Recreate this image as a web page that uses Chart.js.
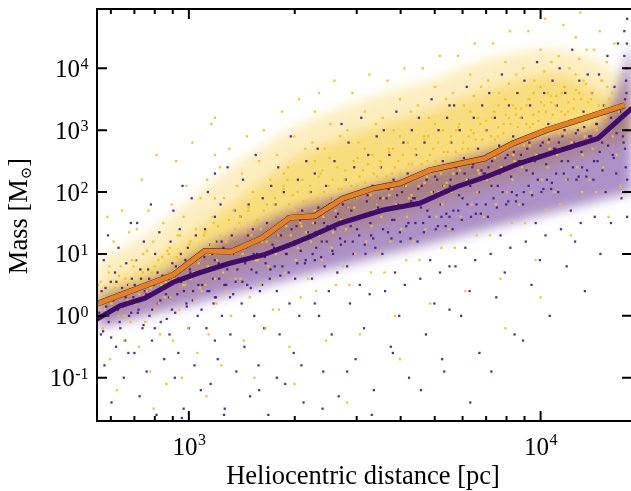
<!DOCTYPE html>
<html>
<head>
<meta charset="utf-8">
<title>Mass vs heliocentric distance</title>
<script src="https://cdn.jsdelivr.net/npm/chart.js@4.4.1/dist/chart.umd.min.js"></script>
<style>
  html, body { margin: 0; padding: 0; background: #fff; overflow: hidden; }
  #wrap { width: 631px; height: 491px; overflow: hidden; }
</style>
</head>
<body>
<div id="wrap"><canvas id="chart" width="636" height="491"></canvas></div>
<script>
/* Mass vs heliocentric distance — log-log scatter with two median lines.
 * Scatter points and density bands are kept in log10 units (pc, Msun). */

// ── Axis ranges & ticks ───────────────────────────────────────────────────────

const X_MIN = 548, X_MAX = 18190;
const Y_MIN = 0.02, Y_MAX = 90800;
const xMajorTicks = [1000, 10000];
const xMajorExp   = ["3", "4"];
const xMinorTicks = [600, 700, 800, 900, 2000, 3000, 4000, 5000, 6000, 7000, 8000, 9000];
const yMajorTicks = [0.1, 1, 10, 100, 1000, 10000];
const yMajorExp   = ["-1", "0", "1", "2", "3", "4"];

// ── Median lines ──────────────────────────────────────────────────────────────

const orangeDist = [548, 902, 1109, 1321, 1611, 1936, 2280, 2742, 3342, 3972, 4842, 5636, 6934, 8337, 10375, 12330, 17340];
const orangeMass = [1.56, 4.58, 11.2, 10.9, 17.9, 38.5, 41, 79, 115, 138, 226, 272, 350, 610, 1000, 1360, 2530];

const purpleDist = [548, 637, 750, 912, 1075, 1307, 1625, 1936, 2208, 2685, 3565, 4530, 5768, 7015, 8710, 11830, 14560, 18190];
const purpleMass = [0.885, 1.45, 1.93, 3.57, 4.99, 7.08, 9.63, 14.0, 19.0, 31.3, 51.3, 65.8, 122, 177, 290, 507, 735, 2280];

// ── Dense-core envelopes (log10) ──────────────────────────────────────────────

const bandLogDist   = [2.74, 2.90, 3.05, 3.17, 3.32, 3.50, 3.68, 3.88, 4.05, 4.17, 4.26];
const yellowInnerLo = [0.2, 0.45, 0.8, 1.0, 1.3, 1.6, 1.9, 2.2, 2.5, 2.8, 3.0];
const yellowInnerHi = [0.45, 0.9, 1.5, 2.0, 2.6, 3.0, 3.3, 3.7, 3.9, 3.6, 3.3];
const yellowOuterLo = [-0.1, 0.0, 0.3, 0.7, 1.0, 1.2, 1.5, 1.8, 2.1, 2.4, 2.8];
const yellowOuterHi = [0.9, 1.4, 2.1, 2.6, 3.1, 3.5, 3.8, 4.2, 4.3, 4.1, 3.7];
const purpleInnerLo = [-0.2, -0.05, 0.1, 0.2, 0.45, 0.7, 0.9, 1.15, 1.35, 1.8, 2.0];
const purpleInnerHi = [0.3, 0.6, 1.1, 1.4, 1.75, 2.05, 2.35, 2.7, 2.95, 3.1, 4.4];
const purpleOuterLo = [-0.7, -0.6, -0.45, -0.25, -0.05, 0.15, 0.35, 0.5, 0.75, 1.2, 1.3];
const purpleOuterHi = [0.6, 1.0, 1.6, 1.9, 2.2, 2.6, 2.9, 3.2, 3.4, 3.4, 4.9];

// ── Scatter samples (log10 pc, log10 Msun) ────────────────────────────────────

const purpleLogPts = [
  [2.745,0.05],[2.75,-0.3],[2.752,0.4],[2.758,0.9],[2.76,-0.8],[2.765,0.15],[2.77,1.3],[2.772,-0.1],[2.778,0.55],[2.78,-1.4],[2.785,0.25],[2.79,0.7],[2.793,-0.5],[2.798,0.1],[2.80,1.1],[2.805,-0.2],[2.81,0.45],[2.815,-1.0],[2.82,0.3],[2.822,0.85],[2.828,-0.6],[2.83,0.0],[2.835,1.5],[2.838,0.6],
  [2.842,0.3],[2.845,-0.6],[2.85,0.9],[2.853,1.5],[2.857,0.1],[2.86,-1.3],[2.864,0.6],[2.868,-0.2],[2.872,1.2],[2.875,0.4],[2.88,-0.9],[2.884,0.75],[2.888,0.0],[2.892,1.8],[2.895,-0.4],[2.90,0.5],[2.904,1.0],[2.908,-1.6],[2.912,0.2],[2.916,1.35],[2.92,-0.1],[2.925,0.65],[2.93,-0.7],[2.935,0.35],
  [2.942,0.6],[2.945,-0.3],[2.948,1.2],[2.952,0.1],[2.956,1.7],[2.96,-1.0],[2.963,0.8],[2.967,0.35],[2.97,-0.6],[2.974,1.4],[2.978,0.55],[2.982,2.1],[2.985,-1.5],[2.99,0.9],[2.993,0.2],[2.997,1.1],[3.0,-0.2],[3.004,0.7],[3.008,1.9],[3.012,0.4],[3.016,-0.8],[3.02,1.3],[3.025,0.0],[3.03,0.95],[3.034,-1.2],[3.038,0.5],
  [3.042,0.7],[3.046,1.4],[3.05,-0.2],[3.054,2.0],[3.058,0.4],[3.062,-1.1],[3.066,1.0],[3.07,0.2],[3.074,1.6],[3.074,0.9],[3.074,0.3],[3.074,-0.4],[3.074,2.3],[3.078,1.2],[3.082,-0.7],[3.086,0.6],[3.09,1.8],[3.094,0.0],[3.098,1.1],[3.102,-1.5],[3.106,0.5],[3.11,2.4],[3.114,0.85],[3.118,-0.3],[3.122,1.3],[3.126,0.35],[3.13,1.7],[3.135,-0.9],[3.138,0.75],
  [3.142,0.9],[3.146,1.6],[3.15,0.2],[3.154,2.2],[3.158,-0.5],[3.162,1.1],[3.166,0.5],[3.17,1.8],[3.174,-1.3],[3.178,0.75],[3.182,1.4],[3.186,0.0],[3.19,2.6],[3.194,1.0],[3.198,-0.8],[3.202,0.4],[3.206,1.25],[3.21,1.9],[3.214,-0.2],[3.218,0.85],[3.222,1.5],[3.226,-1.6],[3.23,0.6],[3.234,2.1],[3.238,1.15],
  [3.242,1.1],[3.246,1.8],[3.25,0.4],[3.254,2.4],[3.258,-0.3],[3.262,1.3],[3.266,0.8],[3.27,2.0],[3.274,-1.1],[3.278,1.0],[3.282,1.6],[3.286,0.2],[3.29,2.9],[3.294,1.2],[3.298,-0.6],[3.302,0.6],[3.306,1.45],[3.31,2.2],[3.314,0.0],[3.318,1.05],[3.322,1.7],[3.326,-1.4],[3.33,0.85],[3.334,2.5],[3.338,1.35],
  [3.342,1.3],[3.346,2.0],[3.35,0.6],[3.358,1.5],[3.358,0.9],[3.358,2.3],[3.358,0.2],[3.362,1.1],[3.366,2.7],[3.37,0.0],[3.374,1.7],[3.378,1.2],[3.382,-0.9],[3.386,0.8],[3.39,2.1],[3.394,1.45],[3.398,0.4],[3.402,1.9],[3.406,-0.3],[3.41,1.0],[3.414,2.5],[3.418,1.6],[3.422,0.7],[3.426,-1.3],[3.43,1.25],[3.434,3.1],[3.438,1.8],
  [3.442,1.5],[3.446,2.2],[3.45,0.8],[3.454,2.8],[3.458,0.2],[3.462,1.7],[3.466,1.2],[3.47,2.4],[3.474,-0.7],[3.478,1.4],[3.482,2.0],[3.486,0.5],[3.49,3.2],[3.494,1.6],[3.498,-0.2],[3.502,1.0],[3.506,1.85],[3.51,2.6],[3.514,0.35],[3.518,1.3],[3.522,2.1],[3.526,-1.2],[3.53,1.1],[3.534,2.9],[3.538,1.75],
  [3.542,1.7],[3.546,2.4],[3.55,1.0],[3.554,3.0],[3.558,0.4],[3.562,1.9],[3.566,1.35],[3.57,2.6],[3.574,-0.5],[3.578,1.55],[3.582,2.2],[3.586,0.7],[3.59,3.3],[3.594,1.8],[3.598,0.0],[3.602,1.2],[3.606,2.0],[3.61,2.8],[3.614,0.5],[3.618,1.45],[3.622,2.3],[3.626,-1.0],[3.63,1.25],[3.634,3.0],[3.638,1.9],
  [3.642,1.9],[3.646,2.6],[3.65,1.2],[3.654,3.2],[3.658,0.6],[3.662,2.1],[3.666,1.5],[3.67,2.8],[3.674,-0.3],[3.678,1.7],[3.682,2.35],[3.686,0.9],[3.69,3.5],[3.694,2.0],[3.698,0.2],[3.702,1.4],[3.706,2.2],[3.71,3.0],[3.714,0.7],[3.718,1.6],[3.722,2.5],[3.726,-0.9],[3.73,1.45],[3.734,3.2],[3.741,2.4],[3.741,1.6],[3.741,0.8],[3.741,3.4],[3.741,0.1],
  [3.742,2.1],[3.746,2.8],[3.75,1.4],[3.754,3.4],[3.758,0.8],[3.762,2.3],[3.766,1.7],[3.77,3.0],[3.774,0.0],[3.778,1.9],[3.782,2.55],[3.786,1.1],[3.79,3.7],[3.794,2.2],[3.798,0.4],[3.802,1.6],[3.806,2.4],[3.81,3.2],[3.814,0.9],[3.818,1.8],[3.822,2.7],[3.826,-0.6],[3.83,1.65],[3.834,3.4],[3.838,2.3],
  [3.842,2.3],[3.846,3.0],[3.85,1.6],[3.854,3.6],[3.858,1.0],[3.862,2.5],[3.866,1.9],[3.87,3.2],[3.874,0.3],[3.878,2.1],[3.882,2.75],[3.886,1.3],[3.89,3.9],[3.894,2.4],[3.898,0.7],[3.902,1.8],[3.906,2.6],[3.91,3.4],[3.914,1.1],[3.918,2.0],[3.922,2.9],[3.926,-0.3],[3.93,1.85],[3.934,3.6],[3.938,2.5],
  [3.942,2.5],[3.946,3.2],[3.95,1.8],[3.954,3.8],[3.958,1.2],[3.962,2.7],[3.966,2.1],[3.97,3.4],[3.974,0.5],[3.978,2.3],[3.982,2.95],[3.986,1.5],[3.99,4.1],[3.994,2.6],[3.998,0.9],[4.002,2.0],[4.006,2.8],[4.01,3.6],[4.014,1.3],[4.018,2.2],[4.022,3.1],[4.026,0.0],[4.03,2.05],[4.034,3.8],[4.038,2.7],
  [4.042,2.7],[4.046,3.4],[4.05,2.0],[4.054,4.0],[4.058,1.4],[4.062,2.9],[4.066,2.3],[4.07,3.6],[4.074,0.8],[4.078,2.5],[4.082,3.15],[4.086,1.7],[4.09,4.3],[4.094,2.8],[4.098,1.2],[4.102,2.2],[4.106,3.0],[4.11,3.8],[4.114,1.5],[4.118,2.4],[4.122,3.3],[4.126,0.4],[4.13,2.25],[4.134,3.9],[4.138,2.9],
  [4.142,2.9],[4.146,3.6],[4.15,2.2],[4.154,1.6],[4.158,3.1],[4.162,2.5],[4.166,3.9],[4.17,1.0],[4.175,2.8],[4.18,3.4],[4.185,2.0],[4.19,4.2],[4.195,3.0],[4.2,1.5],[4.205,2.6],[4.21,3.7],[4.215,2.3],[4.22,4.4],[4.225,3.2],[4.23,1.9],[4.234,2.9],[4.238,4.6],[4.24,3.5],[4.242,2.4],[4.244,4.0],[4.245,3.0],[4.246,1.6],[4.246,4.8],[4.243,3.8],[4.24,2.7],
  [3.25,-1.0],[3.32,-0.8],[3.38,-1.5],[3.45,-0.9],[3.52,-1.6],[3.58,-0.6],[3.66,-1.2],[3.72,-0.7],[3.8,-1.4],[3.86,-0.9],[3.95,-0.4],[2.98,-1.65],[3.1,-1.6],[3.2,-1.2],
  // core
  [2.747,0.2],[2.756,-0.25],[2.763,0.45],[2.771,0.0],[2.779,-0.35],[2.787,0.3],[2.794,0.55],[2.803,-0.1],[2.812,0.15],[2.819,-0.4],[2.827,0.5],[2.836,0.05],
  [2.846,0.5],[2.855,0.05],[2.862,0.75],[2.871,-0.15],[2.879,0.35],[2.887,0.6],[2.896,0.1],[2.903,-0.2],[2.911,0.7],[2.919,0.25],[2.928,0.45],[2.937,-0.05],
  [2.944,0.3],[2.953,0.85],[2.961,0.05],[2.969,0.6],[2.977,1.0],[2.986,0.4],[2.994,0.15],[3.003,0.75],[3.011,0.25],[3.019,0.95],[3.027,0.5],[3.036,0.1],
  [3.044,0.95],[3.053,0.4],[3.061,1.15],[3.069,0.6],[3.077,0.3],[3.085,0.85],[3.093,1.2],[3.101,0.5],[3.109,0.75],[3.117,0.3],[3.125,1.0],[3.133,0.55],
  [3.144,1.1],[3.152,0.55],[3.16,0.85],[3.168,1.3],[3.176,0.45],[3.184,1.0],[3.192,0.7],[3.2,1.25],[3.208,0.5],[3.216,0.95],[3.224,1.35],[3.232,0.75],
  [3.244,0.8],[3.252,1.3],[3.26,0.65],[3.268,1.5],[3.276,1.0],[3.284,0.7],[3.292,1.4],[3.3,1.15],[3.308,0.85],[3.316,1.55],[3.324,1.25],[3.332,0.9],
  [3.344,1.6],[3.352,1.0],[3.36,1.35],[3.368,1.75],[3.376,0.95],[3.384,1.5],[3.392,1.2],[3.4,1.8],[3.408,1.05],[3.416,1.4],[3.424,1.65],[3.432,1.15],
  [3.444,1.2],[3.452,1.75],[3.46,1.45],[3.468,1.0],[3.476,1.9],[3.484,1.3],[3.492,1.6],[3.5,1.15],[3.508,1.95],[3.516,1.5],[3.524,1.25],[3.532,1.8],
  [3.544,1.9],[3.552,1.4],[3.56,1.7],[3.568,2.05],[3.576,1.25],[3.584,1.55],[3.592,1.95],[3.6,1.35],[3.608,1.75],[3.616,2.1],[3.624,1.5],[3.632,1.85],
  [3.644,1.5],[3.652,2.05],[3.66,1.75],[3.668,1.35],[3.676,2.2],[3.684,1.6],[3.692,1.9],[3.7,2.25],[3.708,1.45],[3.716,1.8],[3.724,2.1],[3.732,1.65],
  [3.744,2.2],[3.752,1.7],[3.76,2.4],[3.768,1.95],[3.776,1.55],[3.784,2.3],[3.792,1.8],[3.8,2.1],[3.808,2.45],[3.816,1.65],[3.824,2.0],[3.832,2.35],
  [3.844,1.8],[3.852,2.4],[3.86,2.1],[3.868,2.6],[3.876,1.75],[3.884,2.3],[3.892,2.0],[3.9,2.55],[3.908,1.85],[3.916,2.25],[3.924,2.65],[3.932,1.95],
  [3.944,2.6],[3.952,2.0],[3.96,2.35],[3.968,2.8],[3.976,1.95],[3.984,2.5],[3.992,2.2],[4.0,2.75],[4.008,2.05],[4.016,2.45],[4.024,2.85],[4.032,2.15],
  [4.044,2.3],[4.052,2.8],[4.06,2.5],[4.068,3.0],[4.076,2.2],[4.084,2.7],[4.092,2.4],[4.1,2.95],[4.108,2.25],[4.116,2.65],[4.124,3.05],[4.132,2.35],
  [4.144,2.9],[4.152,2.5],[4.16,3.1],[4.168,2.65],[4.176,2.35],[4.184,3.0],[4.192,2.75],[4.2,3.2],[4.208,2.55],[4.216,2.95],[4.226,3.3],[4.236,2.8],[4.244,3.6],[4.246,2.2],[4.238,4.2],[4.245,4.4]
];

const yellowLogPts = [
  [2.742,0.5],[2.748,1.0],[2.755,-0.2],[2.76,0.3],[2.768,1.6],[2.772,0.7],[2.776,-0.7],[2.78,0.2],[2.786,1.2],[2.79,0.45],[2.795,-1.2],[2.80,0.0],[2.806,0.8],[2.81,1.7],[2.816,-0.4],[2.82,0.6],[2.826,0.25],[2.83,1.35],[2.834,-0.1],[2.838,0.9],
  [2.843,0.8],[2.848,0.2],[2.852,1.4],[2.858,-0.5],[2.862,0.55],[2.866,2.2],[2.87,1.0],[2.876,-0.1],[2.88,0.4],[2.885,1.7],[2.89,-0.9],[2.894,0.7],[2.899,1.2],[2.903,0.1],[2.908,2.6],[2.913,0.9],[2.918,-0.3],[2.922,0.5],[2.927,1.5],[2.932,0.3],[2.936,-1.1],[2.939,1.05],
  [2.943,1.0],[2.947,0.3],[2.951,1.8],[2.955,-0.4],[2.96,0.75],[2.964,2.5],[2.968,1.3],[2.972,0.1],[2.976,0.9],[2.98,-1.0],[2.985,1.6],[2.989,0.5],[2.993,2.1],[2.998,-0.2],[3.002,1.15],[3.006,0.6],[3.01,2.8],[3.015,0.25],[3.02,1.4],[3.024,-0.6],[3.028,0.85],[3.033,1.9],[3.037,0.4],
  [3.043,1.3],[3.047,0.5],[3.052,2.2],[3.056,-0.3],[3.06,1.0],[3.064,3.1],[3.068,1.6],[3.074,2.6],[3.074,1.9],[3.074,1.2],[3.074,0.6],[3.074,3.2],[3.078,0.2],[3.083,1.45],[3.088,2.4],[3.092,-0.8],[3.096,0.8],[3.1,1.9],[3.105,0.4],[3.11,1.25],[3.115,2.7],[3.12,0.0],[3.124,1.05],[3.128,1.7],[3.133,0.6],[3.137,2.1],
  [3.143,1.5],[3.147,0.6],[3.151,2.3],[3.156,-0.4],[3.16,1.1],[3.165,2.9],[3.169,1.7],[3.173,0.3],[3.178,1.3],[3.182,2.0],[3.186,-1.0],[3.19,0.9],[3.195,1.55],[3.2,2.5],[3.204,0.5],[3.208,1.2],[3.213,3.0],[3.218,-0.2],[3.222,1.8],[3.226,0.8],[3.231,2.2],[3.235,1.4],[3.239,0.1],
  [3.243,1.8],[3.247,1.0],[3.251,2.6],[3.256,0.1],[3.26,1.5],[3.265,3.3],[3.269,2.1],[3.273,0.7],[3.278,1.7],[3.282,2.4],[3.286,-0.5],[3.29,1.3],[3.295,1.95],[3.3,2.9],[3.304,0.9],[3.308,1.6],[3.313,3.5],[3.318,0.3],[3.322,2.2],[3.326,1.2],[3.331,2.7],[3.335,1.85],[3.339,0.6],[3.32,1.45],[3.27,2.3],
  [3.343,2.0],[3.347,1.2],[3.351,2.8],[3.358,1.7],[3.358,2.5],[3.358,3.3],[3.362,0.4],[3.366,1.9],[3.37,3.6],[3.374,2.3],[3.378,0.9],[3.382,1.6],[3.386,2.7],[3.39,-0.4],[3.394,1.4],[3.398,2.1],[3.402,3.1],[3.406,1.1],[3.41,1.85],[3.414,3.8],[3.418,0.5],[3.422,2.4],[3.426,1.5],[3.43,2.9],[3.434,2.05],[3.438,0.8],[3.4,2.55],[3.37,1.3],
  [3.443,2.2],[3.447,1.4],[3.451,3.0],[3.456,0.5],[3.46,1.9],[3.465,3.6],[3.469,2.5],[3.473,1.0],[3.478,2.1],[3.482,2.8],[3.486,-0.3],[3.49,1.6],[3.495,2.35],[3.5,3.3],[3.504,1.2],[3.508,2.0],[3.513,3.9],[3.518,0.7],[3.522,2.6],[3.526,1.7],[3.531,3.1],[3.535,2.25],[3.539,1.0],[3.47,1.75],[3.5,2.7],[3.52,1.45],
  [3.543,2.4],[3.547,1.6],[3.551,3.2],[3.556,0.7],[3.56,2.1],[3.565,3.8],[3.569,2.7],[3.573,1.2],[3.578,2.3],[3.582,3.0],[3.586,0.0],[3.59,1.8],[3.595,2.5],[3.6,3.5],[3.604,1.4],[3.608,2.2],[3.613,4.0],[3.618,0.9],[3.622,2.8],[3.626,1.9],[3.631,3.3],[3.635,2.45],[3.639,1.2],[3.57,1.95],[3.6,2.9],[3.62,1.6],
  [3.643,2.6],[3.647,1.8],[3.651,3.4],[3.656,0.9],[3.66,2.3],[3.665,4.0],[3.669,2.9],[3.673,1.4],[3.678,2.5],[3.682,3.2],[3.686,0.2],[3.69,2.0],[3.695,2.7],[3.7,3.7],[3.704,1.6],[3.708,2.4],[3.713,4.2],[3.718,1.1],[3.722,3.0],[3.726,2.1],[3.731,3.5],[3.735,2.65],[3.739,1.4],[3.67,2.15],[3.7,3.1],[3.72,1.8],
  [3.743,2.8],[3.747,2.0],[3.751,3.6],[3.756,1.1],[3.76,2.5],[3.765,4.2],[3.769,3.1],[3.773,1.6],[3.778,2.7],[3.782,3.4],[3.786,0.4],[3.79,2.2],[3.795,2.9],[3.8,3.9],[3.804,1.8],[3.808,2.6],[3.813,4.4],[3.818,1.3],[3.822,3.2],[3.826,2.3],[3.831,3.7],[3.835,2.85],[3.839,1.6],[3.77,2.35],[3.8,3.3],[3.82,2.0],[3.76,3.0],[3.81,3.55],
  [3.843,3.0],[3.847,2.2],[3.851,3.8],[3.856,1.3],[3.86,2.7],[3.865,4.4],[3.869,3.3],[3.873,1.8],[3.878,2.9],[3.882,3.6],[3.886,0.6],[3.89,2.4],[3.895,3.1],[3.9,4.1],[3.904,2.0],[3.908,2.8],[3.913,4.6],[3.918,1.5],[3.922,3.4],[3.926,2.5],[3.931,3.9],[3.935,3.05],[3.939,1.8],[3.87,2.55],[3.9,3.5],[3.92,2.2],[3.86,3.2],[3.91,3.75],[3.88,3.4],[3.93,3.25],
  [3.943,3.2],[3.947,2.4],[3.951,4.0],[3.956,1.5],[3.96,2.9],[3.965,4.6],[3.969,3.5],[3.973,2.0],[3.978,3.1],[3.982,3.8],[3.986,0.9],[3.99,2.6],[3.995,3.3],[4.0,4.3],[4.004,2.2],[4.008,3.0],[4.013,4.8],[4.018,1.7],[4.022,3.6],[4.026,2.7],[4.031,4.1],[4.035,3.25],[4.039,2.0],[3.97,2.75],[4.0,3.7],[4.02,2.4],[3.96,3.4],[4.01,3.95],[3.98,3.6],[4.03,3.45],
  [4.043,3.4],[4.047,2.6],[4.051,4.2],[4.056,1.8],[4.06,3.1],[4.065,4.7],[4.069,3.7],[4.073,2.2],[4.078,3.3],[4.082,4.0],[4.086,1.3],[4.09,2.8],[4.095,3.5],[4.1,4.5],[4.104,2.4],[4.108,3.2],[4.113,4.9],[4.118,2.0],[4.122,3.8],[4.126,2.9],[4.131,4.3],[4.135,3.45],[4.139,2.2],[4.07,2.95],[4.1,3.9],[4.12,2.6],[4.06,3.6],[4.11,4.15],
  [4.143,3.5],[4.148,2.7],[4.152,4.3],[4.158,2.0],[4.163,3.2],[4.168,4.6],[4.173,3.8],[4.178,2.4],[4.183,3.4],[4.188,4.1],[4.193,1.6],[4.198,3.0],[4.204,3.6],[4.21,4.4],[4.216,2.6],[4.222,3.3],[4.228,2.1],[4.233,3.9],[4.16,3.0],[4.19,3.7],
  [3.05,-1.3],[3.3,-1.1],[3.6,-0.7],[3.9,-0.2],[4.0,0.3],[2.9,-1.5],[3.45,-1.4],
  // core
  [2.749,0.55],[2.761,0.1],[2.774,0.8],[2.789,0.35],[2.801,0.65],[2.817,0.0],[2.83,0.5],
  [2.848,0.9],[2.859,0.35],[2.869,0.7],[2.881,1.05],[2.892,0.45],[2.902,0.8],[2.914,0.2],[2.924,0.95],[2.934,0.55],
  [2.946,1.1],[2.956,0.6],[2.966,0.95],[2.975,1.3],[2.984,0.5],[2.993,0.85],[3.004,1.2],[3.013,0.7],[3.022,1.05],[3.031,0.45],
  [3.045,1.35],[3.054,0.8],[3.063,1.15],[3.071,1.5],[3.08,0.9],[3.089,1.3],[3.097,0.7],[3.106,1.2],[3.114,1.55],[3.122,1.0],[3.131,1.4],
  [3.145,1.6],[3.153,1.0],[3.161,1.35],[3.17,1.75],[3.179,1.15],[3.187,1.5],[3.196,0.9],[3.205,1.4],[3.213,1.7],[3.221,1.2],[3.23,1.55],[3.238,1.05],
  [3.245,1.9],[3.253,1.3],[3.261,1.65],[3.269,2.05],[3.277,1.45],[3.285,1.8],[3.293,1.2],[3.301,1.7],[3.309,2.0],[3.317,1.5],[3.325,1.85],[3.333,1.35],[3.28,2.2],[3.31,1.1],
  [3.345,2.1],[3.353,1.5],[3.361,1.85],[3.369,2.25],[3.377,1.65],[3.385,2.0],[3.393,1.4],[3.401,1.9],[3.409,2.2],[3.417,1.7],[3.425,2.05],[3.433,1.55],[3.38,2.35],[3.41,1.35],
  [3.445,2.35],[3.453,1.75],[3.461,2.1],[3.469,2.5],[3.477,1.9],[3.485,2.25],[3.493,1.6],[3.501,2.15],[3.509,2.45],[3.517,1.95],[3.525,2.3],[3.533,1.8],[3.48,2.55],[3.51,1.65],
  [3.545,2.5],[3.553,1.9],[3.561,2.25],[3.569,2.65],[3.577,2.05],[3.585,2.4],[3.593,1.75],[3.601,2.3],[3.609,2.6],[3.617,2.1],[3.625,2.45],[3.633,1.95],[3.58,2.7],[3.61,1.8],
  [3.645,2.7],[3.653,2.1],[3.661,2.45],[3.669,2.85],[3.677,2.25],[3.685,2.6],[3.693,1.95],[3.701,2.5],[3.709,2.8],[3.717,2.3],[3.725,2.65],[3.733,2.15],[3.68,2.9],[3.71,2.0],
  [3.745,2.9],[3.752,2.3],[3.759,2.65],[3.766,3.05],[3.773,2.45],[3.78,2.8],[3.787,2.15],[3.794,2.7],[3.801,3.0],[3.808,2.5],[3.815,2.85],[3.822,2.35],[3.829,3.1],[3.836,2.2],[3.77,2.6],[3.81,2.95],
  [3.845,3.15],[3.852,2.55],[3.859,2.9],[3.866,3.3],[3.873,2.7],[3.88,3.05],[3.887,2.4],[3.894,2.95],[3.901,3.25],[3.908,2.75],[3.915,3.1],[3.922,2.6],[3.929,3.35],[3.936,2.45],[3.87,2.85],[3.91,3.2],
  [3.945,3.35],[3.952,2.75],[3.959,3.1],[3.966,3.5],[3.973,2.9],[3.98,3.25],[3.987,2.6],[3.994,3.15],[4.001,3.45],[4.008,2.95],[4.015,3.3],[4.022,2.8],[4.029,3.55],[4.036,2.65],[3.97,3.05],[4.01,3.4],
  [4.045,3.55],[4.052,2.95],[4.059,3.3],[4.066,3.7],[4.073,3.1],[4.08,3.45],[4.087,2.8],[4.094,3.35],[4.101,3.65],[4.108,3.15],[4.115,3.5],[4.122,3.0],[4.129,3.75],[4.136,2.85],[4.07,3.25],[4.11,3.6],
  [4.145,3.6],[4.155,3.05],[4.165,3.4],[4.175,3.8],[4.185,3.2],[4.195,3.5],[4.205,2.9],[4.215,3.35]
];

// ── Helpers ───────────────────────────────────────────────────────────────────

const toXY = pts => pts.map(([ld, lm]) => ({ x: 10 ** ld, y: 10 ** lm }));
const zipXY = (xs, ys) => xs.map((x, i) => ({ x, y: ys[i] }));
const logBand = lms => bandLogDist.map((ld, i) => ({ x: 10 ** ld, y: 10 ** lms[i] }));

const SERIF = '"Liberation Serif", "DejaVu Serif", serif';

function drawPower(ctx, exp, x, base, align, rise) {
  // "10" with a raised exponent, base = alphabetic baseline of the "10"
  ctx.font = `25px ${SERIF}`;
  const wBase = ctx.measureText("10").width;
  ctx.font = `16px ${SERIF}`;
  const wExp = ctx.measureText(exp).width;
  const total = wBase + wExp;
  const left = align === "right" ? x - total : x - total / 2;
  ctx.textAlign = "left";
  ctx.textBaseline = "alphabetic";
  ctx.font = `25px ${SERIF}`;
  ctx.fillText("10", left, base);
  ctx.font = `16px ${SERIF}`;
  ctx.fillText(exp, left + wBase + 0.5, base - rise);
}

// ── Soft edges for the density envelopes ──────────────────────────────────────
// Filler draws all fills in beforeDraw (it is a global plugin, so it runs
// before ours); the blur is switched on just before and off right after.

const bandBlurPlugin = {
  id: "bandBlur",
  beforeRender(chart) { chart.ctx.filter = "blur(6px)"; },
  beforeDraw(chart)   { chart.ctx.filter = "none"; },
};

// ── Frame, inward ticks and labels ────────────────────────────────────────────

const framePlugin = {
  id: "frame",
  afterDatasetsDraw(chart) {
    const { ctx, chartArea: a, scales: { x, y } } = chart;
    ctx.save();
    ctx.strokeStyle = "#000";
    ctx.lineWidth = 2;
    ctx.strokeRect(a.left, a.top, a.right - a.left, a.bottom - a.top);

    ctx.beginPath();
    const xTick = (v, len) => {
      const px = x.getPixelForValue(v);
      ctx.moveTo(px, a.bottom); ctx.lineTo(px, a.bottom - len);
      ctx.moveTo(px, a.top);    ctx.lineTo(px, a.top + len);
    };
    const yTick = (v, len) => {
      const py = y.getPixelForValue(v);
      ctx.moveTo(a.left, py);  ctx.lineTo(a.left + len, py);
      ctx.moveTo(a.right, py); ctx.lineTo(a.right - len, py);
    };
    xMajorTicks.forEach(v => xTick(v, 10));
    xMinorTicks.forEach(v => xTick(v, 5));
    yMajorTicks.forEach(v => yTick(v, 10));
    ctx.stroke();

    ctx.fillStyle = "#000";
    xMajorTicks.forEach((v, i) =>
      drawPower(ctx, xMajorExp[i], x.getPixelForValue(v), a.bottom + 34, "center", 10));
    yMajorTicks.forEach((v, i) =>
      drawPower(ctx, yMajorExp[i], a.left - 9, y.getPixelForValue(v) + 8.5, "right", 7.5));

    // x title
    ctx.font = `26.5px ${SERIF}`;
    ctx.textAlign = "center";
    ctx.textBaseline = "alphabetic";
    ctx.fillText("Heliocentric distance [pc]", (a.left + 629) / 2, 484);

    // y title, rotated, with subscript solar symbol
    ctx.translate(27, (a.top + a.bottom) / 2 + 1);
    ctx.rotate(-Math.PI / 2);
    ctx.font = `26.5px ${SERIF}`;
    const p1 = "Mass [M", p3 = "]";
    const w1 = ctx.measureText(p1).width, w3 = ctx.measureText(p3).width;
    ctx.font = `15px ${SERIF}`;
    const w2 = ctx.measureText("\u2299").width;
    let cx = -(w1 + w2 + w3) / 2;
    ctx.textAlign = "left";
    ctx.font = `26.5px ${SERIF}`;
    ctx.fillText(p1, cx, 0);
    cx += w1;
    ctx.font = `15px ${SERIF}`;
    ctx.fillText("\u2299", cx, 4);
    cx += w2;
    ctx.font = `26.5px ${SERIF}`;
    ctx.fillText(p3, cx, 0);
    ctx.restore();
  },
};

// ── Chart ─────────────────────────────────────────────────────────────────────

const purpleXY = toXY(purpleLogPts);
const yellowXY = toXY(yellowLogPts);

const bandPair = (lo, hi, color, order) => [
  { type: "line", data: logBand(lo), order, borderWidth: 0, pointRadius: 0, fill: false, tension: 0.35 },
  { type: "line", data: logBand(hi), order, borderWidth: 0, pointRadius: 0, fill: "-1",
    backgroundColor: color, tension: 0.35 },
];

new Chart(document.getElementById("chart"), {
  type: "scatter",
  data: {
    datasets: [
      ...bandPair(purpleOuterLo, purpleOuterHi, "rgba(82,26,136,0.36)", 20),
      ...bandPair(yellowOuterLo, yellowOuterHi, "rgba(244,200,45,0.30)", 19),
      ...bandPair(yellowInnerLo, yellowInnerHi, "rgba(244,200,45,0.45)", 18),
      ...bandPair(purpleInnerLo, purpleInnerHi, "rgba(82,26,136,0.48)", 17),
      { data: purpleXY, order: 5, pointRadius: 1.6, pointStyle: "rect",
        backgroundColor: "rgba(74,20,130,0.9)", borderWidth: 0 },
      { data: yellowXY, order: 4, pointRadius: 1.6, pointStyle: "rect",
        backgroundColor: "rgba(242,194,36,0.95)", borderWidth: 0 },
      { type: "line", data: zipXY(purpleDist, purpleMass), order: 3,
        borderColor: "#3f0b6e", borderWidth: 5, pointRadius: 0, tension: 0 },
      { type: "line", data: zipXY(orangeDist, orangeMass), order: 2,
        borderColor: "#2a2018", borderWidth: 5.8, pointRadius: 0, tension: 0 },
      { type: "line", data: zipXY(orangeDist, orangeMass), order: 1,
        borderColor: "#e8801f", borderWidth: 5, pointRadius: 0, tension: 0 },
    ],
  },
  options: {
    responsive: false,
    animation: false,
    devicePixelRatio: 1,
    layout: { padding: { left: 97, top: 9, right: 3.5, bottom: 70 } },
    plugins: {
      legend: { display: false },
      tooltip: { enabled: false },
      filler: { drawTime: "beforeDraw" },
    },
    scales: {
      x: { type: "logarithmic", min: X_MIN, max: X_MAX, display: false },
      y: { type: "logarithmic", min: Y_MIN, max: Y_MAX, display: false },
    },
  },
  plugins: [bandBlurPlugin, framePlugin],
});
</script>
</body>
</html>
